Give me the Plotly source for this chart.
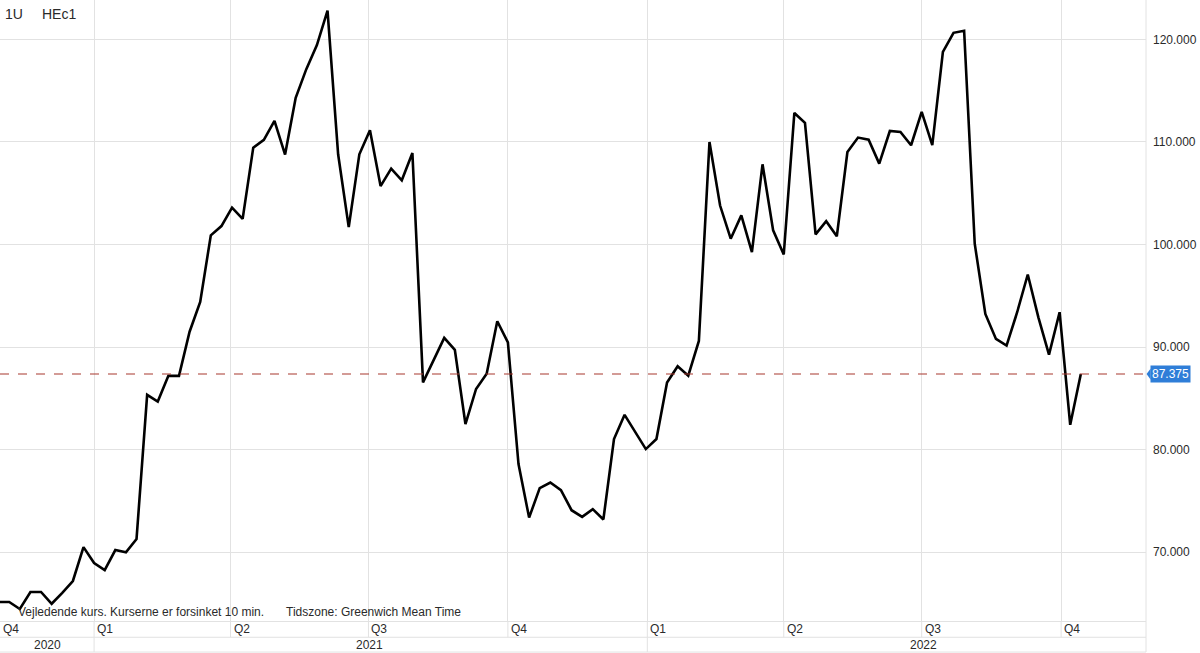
import pandas as pd
import plotly.graph_objects as go

# ---- data (weekly closes) ----
start_date = "2020-10-30"
prices = [
    65.15, 65.15, 64.47, 66.13, 66.13, 64.98, 66.05, 67.2, 70.5, 68.95,
    68.26, 70.22, 70.0, 71.3, 85.35, 84.7, 87.2, 87.2, 91.5, 94.4,
    100.9, 101.8, 103.6, 102.5, 109.45, 110.2, 112.05, 108.77, 114.3, 117.1,
    119.44, 122.8, 108.8, 101.7, 108.8, 111.15, 105.7, 107.4, 106.26, 108.93,
    86.56, 88.75, 90.9, 89.73, 82.5, 85.92, 87.4, 92.52, 90.47, 78.6,
    73.38, 76.25, 76.8, 76.05, 74.1, 73.45, 74.2, 73.2, 81.04, 83.4,
    81.68, 80.06, 81.04, 86.56, 88.13, 87.22, 90.6, 110.0, 103.8, 100.57,
    102.84, 99.26, 107.82, 101.38, 99.03, 112.83, 111.86, 100.99, 102.28, 100.8,
    109.02, 110.43, 110.23, 107.89, 111.07, 110.98, 109.68, 112.93, 109.7, 118.79,
    120.64, 120.84, 100.08, 93.24, 90.8, 90.15, 93.4, 97.08, 92.9, 89.27,
    93.4, 82.43, 87.375,
]
dates = pd.date_range(start_date, periods=len(prices), freq="7D")
last_price = prices[-1]

y_ticks = [70, 80, 90, 100, 110, 120]
quarter_starts = ["2021-01-01", "2021-04-01", "2021-07-01", "2021-10-01",
                  "2022-01-01", "2022-04-01", "2022-07-01", "2022-10-01"]
quarter_labels = ["Q1", "Q2", "Q3", "Q4", "Q1", "Q2", "Q3", "Q4"]
first_quarter_label = "Q4"
year_starts = ["2021-01-01", "2022-01-01"]
year_labels = ["2020", "2021", "2022"]
year_label_pos = ["2020-12-01", "2021-07-02", "2022-07-02"]

x_range = ["2020-10-30 22:00", "2022-11-26"]
y_range = [63.3, 123.84]

title_left = "1U"
title_right = "HEc1"
footer_a = "Vejledende kurs. Kurserne er forsinket 10 min."
footer_b = "Tidszone: Greenwich Mean Time"

GRID = "#e2e2e2"
TXT = "#2a2a2a"
FONT = "Liberation Sans, Arial, sans-serif"

fig = go.Figure()
fig.add_trace(go.Scatter(
    x=dates, y=prices, mode="lines",
    line=dict(color="#000000", width=2.6),
    hoverinfo="skip", showlegend=False,
))

# reference dashed line at last price
fig.add_shape(type="line", xref="paper", x0=0, x1=1, yref="y",
              y0=last_price, y1=last_price,
              line=dict(color="#a8382e", width=1.1, dash="dash"))

# bottom band geometry (paper coords)
row1 = -0.0262
row2 = -0.0500
for q in quarter_starts:
    fig.add_shape(type="line", xref="x", x0=q, x1=q, yref="paper", y0=0, y1=row1,
                  line=dict(color=GRID, width=1))
for ys in year_starts:
    fig.add_shape(type="line", xref="x", x0=ys, x1=ys, yref="paper", y0=row1, y1=row2,
                  line=dict(color=GRID, width=1))
for yy in (row1, row2):
    fig.add_shape(type="line", xref="paper", x0=0, x1=1, yref="paper", y0=yy, y1=yy,
                  line=dict(color=GRID, width=1))
fig.add_shape(type="line", xref="paper", x0=1, x1=1, yref="paper", y0=row2, y1=1,
              line=dict(color=GRID, width=1))

ann = []
ann.append(dict(x=x_range[0], y=(0 + row1) / 2, xref="x", yref="paper",
                text=first_quarter_label, showarrow=False, xanchor="left", yanchor="middle",
                xshift=1, font=dict(size=12, color=TXT, family=FONT)))
for q, lab in zip(quarter_starts, quarter_labels):
    ann.append(dict(x=q, y=(0 + row1) / 2, xref="x", yref="paper", text=lab,
                    showarrow=False, xanchor="left", yanchor="middle", xshift=1,
                    font=dict(size=12, color=TXT, family=FONT)))
for p, lab in zip(year_label_pos, year_labels):
    ann.append(dict(x=p, y=(row1 + row2) / 2, xref="x", yref="paper", text=lab,
                    showarrow=False, xanchor="center", yanchor="middle",
                    font=dict(size=12, color=TXT, family=FONT)))
# title
ann.append(dict(x=0, y=1, xref="paper", yref="paper", text=title_left, showarrow=False,
                xanchor="left", yanchor="top", xshift=3, yshift=-4,
                font=dict(size=14, color=TXT, family=FONT)))
ann.append(dict(x=0, y=1, xref="paper", yref="paper", text=title_right, showarrow=False,
                xanchor="left", yanchor="top", xshift=40, yshift=-4,
                font=dict(size=14, color=TXT, family=FONT)))
# footer
ann.append(dict(x=0, y=0, xref="paper", yref="paper", text=footer_a, showarrow=False,
                xanchor="left", yanchor="bottom", xshift=16, yshift=0,
                font=dict(size=12, color=TXT, family=FONT)))
ann.append(dict(x=0, y=0, xref="paper", yref="paper", text=footer_b, showarrow=False,
                xanchor="left", yanchor="bottom", xshift=284, yshift=0,
                font=dict(size=12, color=TXT, family=FONT)))
# last price label
ann.append(dict(x=1, y=last_price, xref="paper", yref="y", text=f"{last_price:.3f}",
                showarrow=False, xanchor="left", xshift=4, bgcolor="#2f7ed8",
                borderpad=1, font=dict(size=12, color="#ffffff", family=FONT)))

# pointer triangle of the price label
tri_w = 0.0036
tri_h = 0.55
fig.add_shape(type="path", xref="paper", yref="y",
              path=f"M 1.0005,{last_price} L {1.0005 + tri_w},{last_price + tri_h} "
                   f"L {1.0005 + tri_w},{last_price - tri_h} Z",
              fillcolor="#2f7ed8", line=dict(width=0))

fig.update_layout(
    width=1200, height=653,
    margin=dict(l=0, r=54, t=0, b=32, autoexpand=False),
    paper_bgcolor="#ffffff", plot_bgcolor="#ffffff",
    font=dict(family=FONT, size=12, color=TXT),
    annotations=ann,
    xaxis=dict(type="date", range=x_range, tickvals=quarter_starts,
               showticklabels=False, showgrid=True, gridcolor=GRID, gridwidth=1,
               showline=True, linecolor=GRID, linewidth=1, zeroline=False, ticks=""),
    yaxis=dict(side="right", range=y_range, tickvals=y_ticks, tickformat=".3f",
               showgrid=True, gridcolor=GRID, gridwidth=1, zeroline=False,
               showline=False, ticks="", ticklabelstandoff=6,
               tickfont=dict(size=12, color=TXT, family=FONT)),
)

fig.write_html("out.html", config={"displayModeBar": False},
               post_script="document.body.style.margin='0';")
